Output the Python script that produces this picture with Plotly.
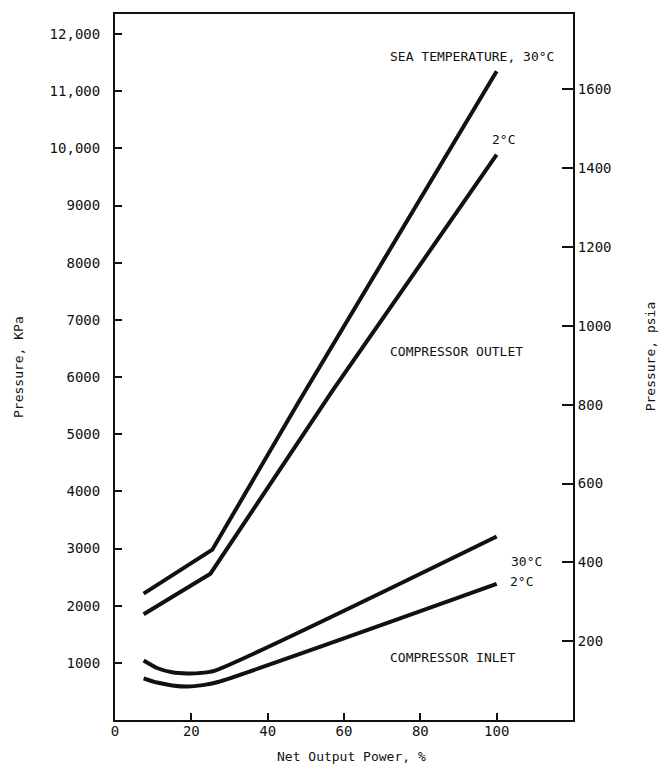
import plotly.graph_objects as go

# ---- data ----
power_out_30 = [7.5, 25.5, 48, 100]
kpa_out_30 = [2210, 2980, 5550, 11350]
power_out_2 = [7.5, 25, 57, 100]
kpa_out_2 = [1850, 2560, 5760, 9890]
power_in_30 = [7.5, 11, 15, 19, 22, 26, 100]
kpa_in_30 = [1040, 910, 835, 815, 820, 860, 3210]
power_in_2 = [7.5, 11, 15, 19, 23, 27, 100]
kpa_in_2 = [730, 655, 605, 585, 610, 665, 2380]

x_ticks = [0, 20, 40, 60, 80, 100]
kpa_ticks = [1000, 2000, 3000, 4000, 5000, 6000, 7000, 8000, 9000, 10000, 11000, 12000]
kpa_labels = ["1000", "2000", "3000", "4000", "5000", "6000", "7000", "8000", "9000",
              "10,000", "11,000", "12,000"]
psia_ticks = [200, 400, 600, 800, 1000, 1200, 1400, 1600]
KPA_PER_PSI = 6.895
Y_MAX = 12350

FONT = "DejaVu Sans Mono"
INK = "#111111"

fig = go.Figure()
for xs, ys, shape in [(power_out_30, kpa_out_30, "linear"), (power_out_2, kpa_out_2, "linear"),
                      (power_in_30, kpa_in_30, "spline"), (power_in_2, kpa_in_2, "spline")]:
    fig.add_trace(go.Scatter(x=xs, y=ys, mode="lines",
                             line=dict(color=INK, width=4, shape=shape, smoothing=0.6),
                             showlegend=False, hoverinfo="skip"))
# invisible trace to carry the psia axis
fig.add_trace(go.Scatter(x=power_out_30, y=[v / KPA_PER_PSI for v in kpa_out_30],
                         yaxis="y2", mode="lines", line=dict(width=0, color="rgba(0,0,0,0)"),
                         showlegend=False, hoverinfo="skip"))

notes = [
    ("SEA TEMPERATURE, 30°C", 93.5, 11605),
    ("2°C", 101.9, 10152),
    ("COMPRESSOR OUTLET", 89.6, 6454),
    ("30°C", 107.9, 2773),
    ("2°C", 106.6, 2425),
    ("COMPRESSOR INLET", 88.5, 1099),
]
anns = [dict(text=t, x=x, y=y, xref="x", yref="y", showarrow=False,
             xanchor="center", yanchor="middle",
             font=dict(family=FONT, size=13, color=INK)) for t, x, y in notes]
anns += [
    dict(text="Pressure, KPa", xref="paper", yref="paper", x=-0.2118, y=0.50,
         xanchor="center", yanchor="middle",
         textangle=-90, showarrow=False, font=dict(family=FONT, size=13, color=INK)),
    dict(text="Pressure, psia", xref="paper", yref="paper", x=1.168, y=0.515,
         xanchor="center", yanchor="middle",
         textangle=-90, showarrow=False, font=dict(family=FONT, size=13, color=INK)),
    dict(text="Net Output Power, %", xref="paper", yref="paper", x=0.517, y=-0.0523,
         xanchor="center", yanchor="middle",
         showarrow=False, font=dict(family=FONT, size=13, color=INK)),
]

fig.update_layout(
    width=668, height=764,
    margin=dict(l=107, r=103, t=4, b=52),
    paper_bgcolor="white", plot_bgcolor="white",
    annotations=anns,
    xaxis=dict(range=[0, 120], tickvals=x_ticks, ticks="inside", ticklen=7,
               tickwidth=1.5, tickcolor=INK, showline=True, linewidth=2, linecolor=INK,
               mirror=True, showgrid=False, zeroline=False, ticklabelstandoff=-3,
               tickfont=dict(family=FONT, size=14, color=INK)),
    yaxis=dict(range=[0, Y_MAX], tickvals=kpa_ticks, ticktext=kpa_labels,
               ticks="inside", ticklen=7, tickwidth=1.5, tickcolor=INK,
               showline=True, linewidth=2, linecolor=INK, showgrid=False,
               zeroline=False, ticklabelstandoff=10,
               tickfont=dict(family=FONT, size=14, color=INK)),
    yaxis2=dict(range=[0, Y_MAX / KPA_PER_PSI], overlaying="y", side="right",
                tickvals=psia_ticks, ticks="inside", ticklen=11, tickwidth=1.5,
                tickcolor=INK, showline=True, linewidth=2, linecolor=INK,
                showgrid=False, zeroline=False,
                tickfont=dict(family=FONT, size=14, color=INK)),
)

fig.write_html("out.html")
